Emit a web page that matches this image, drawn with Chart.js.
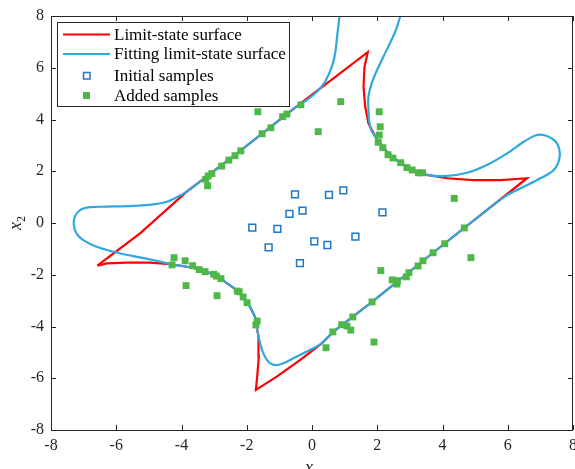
<!DOCTYPE html>
<html>
<head>
<meta charset="utf-8">
<script src="https://cdn.jsdelivr.net/npm/chart.js@4.4.1/dist/chart.umd.min.js"></script>
<style>
  html, body { margin: 0; padding: 0; background: #ffffff; }
  #wrap { width: 575px; height: 469px; position: relative; }
</style>
</head>
<body>
<div id="wrap"><canvas id="c" width="575" height="469"></canvas></div>
<script>
// ---- tick values ----
const xTickValues = [-8, -6, -4, -2, 0, 2, 4, 6, 8];
const yTickValues = [-8, -6, -4, -2, 0, 2, 4, 6, 8];

// ---- Limit-state surface (red) ----
const redX = [-6.58, -5.27, -3.84, -2.21, -0.37, 1.71, 1.61, 1.58, 1.63, 1.73, 1.94, 2.09, 2.34, 2.70, 3.11, 3.52, 4.14, 4.95, 5.77, 6.59,
              5.36, 3.71, 1.84, 0.66, 0.30, -0.37, -1.08, -1.72, -1.68, -1.63, -1.64, -1.72, -1.75, -1.90, -2.10, -2.31, -2.82, -3.33,
              -3.84, -4.35, -4.97, -5.68, -6.29, -6.58];
const redY = [-1.65, -0.40, 1.21, 2.78, 4.60, 6.60, 6.04, 5.27, 4.50, 3.85, 3.34, 3.08, 2.69, 2.33, 2.05, 1.86, 1.73, 1.66, 1.66, 1.73,
              0.50, -1.15, -3.05, -4.20, -4.65, -5.30, -5.94, -6.45, -5.94, -5.17, -4.39, -3.81, -3.62, -3.24, -2.85, -2.59, -2.14, -1.82,
              -1.69, -1.59, -1.53, -1.53, -1.56, -1.65];

// ---- Fitting limit-state surface (blue) ----
const blueX = [0.85, 0.84, 0.78, 0.71, 0.61, 0.40, 0.15, -0.16, -0.37, -2.21, -3.84, -4.15, -4.45, -4.87, -5.48, -6.29, -6.81, -7.11,
               -7.27, -7.30, -7.22, -7.01, -6.60, -6.09, -5.48, -4.87, -4.35, -3.84, -3.33, -2.82, -2.31, -2.10, -1.90, -1.75, -1.72,
               -1.68, -1.59, -1.49, -1.34, -1.13, -0.88, -0.57, -0.16, 0.25, 0.66, 1.84, 3.71, 5.36, 5.98, 6.49, 7.00, 7.41, 7.59,
               7.51, 7.20, 6.90, 6.49, 5.98, 5.36, 4.75, 4.14, 3.52, 3.11, 2.70, 2.34, 2.09, 1.94, 1.82, 1.75, 1.73, 1.73, 1.83,
               2.04, 2.29, 2.55, 2.70, 2.72];
const blueY = [8.10, 7.97, 7.33, 6.56, 6.04, 5.46, 5.07, 4.75, 4.60, 2.78, 1.21, 0.99, 0.82, 0.72, 0.66, 0.63, 0.61, 0.50,
               0.24, -0.08, -0.40, -0.66, -0.92, -1.11, -1.28, -1.43, -1.59, -1.69, -1.82, -2.14, -2.59, -2.85, -3.24, -3.62, -3.81,
               -4.14, -4.65, -5.04, -5.36, -5.49, -5.42, -5.23, -4.97, -4.69, -4.20, -3.05, -1.15, 0.50, 1.08, 1.40, 1.73, 2.05, 2.56,
               3.08, 3.36, 3.40, 3.14, 2.69, 2.24, 1.94, 1.82, 1.86, 2.05, 2.33, 2.69, 3.08, 3.34, 3.59, 3.95, 4.37, 4.88, 5.40,
               6.04, 6.69, 7.39, 7.97, 8.10];

// ---- Initial samples ----
const initX = [-0.52, 0.52, 0.96, -0.69, -0.29, 2.16, -1.83, -1.06, 0.07, 0.47, 1.33, -1.33, -0.37];
const initY = [1.11, 1.09, 1.26, 0.35, 0.48, 0.41, -0.18, -0.23, -0.71, -0.85, -0.53, -0.94, -1.55];

// ---- Added samples ----
const addX = [-1.66, 0.88, 0.19, -0.34, -0.77, -0.90, -1.26, -1.53, -2.18, -2.36, -2.55, -2.77, -3.07, -3.18, -3.26, -3.20,
              2.06, 2.09, 2.06, 2.03, 2.17, 2.33, 2.48, 2.72, 2.91, 3.07, 3.26, 3.39, 4.36,
              4.67, 4.07, 4.87, 3.71, 3.40, 3.25, 2.97, 2.89, 2.11, 2.46, 2.60, 2.62, 1.84, 1.25, 0.91, 1.07, 1.19, 0.64, 1.90, 0.43,
              -4.23, -4.29, -3.89, -3.66, -3.46, -3.28, -3.86, -3.01, -2.93, -2.79, -2.91, -2.29, -2.23, -2.11, -1.99, -1.68, -1.72];
const addY = [4.30, 4.69, 3.53, 4.57, 4.21, 4.11, 3.68, 3.45, 2.79, 2.60, 2.43, 2.20, 1.91, 1.82, 1.69, 1.44,
              4.30, 3.72, 3.40, 3.12, 2.91, 2.64, 2.51, 2.33, 2.14, 2.05, 1.94, 1.94, 0.95,
              -0.19, -0.80, -1.34, -1.15, -1.46, -1.66, -1.92, -2.08, -1.84, -2.20, -2.36, -2.23, -3.05, -3.63, -3.93, -3.98, -4.14, -4.21, -4.60, -4.82,
              -1.34, -1.62, -1.46, -1.65, -1.80, -1.88, -2.42, -1.98, -2.05, -2.15, -2.81, -2.63, -2.66, -2.86, -3.08, -3.79, -3.94];

// ---- legend labels ----
const legendLabels = ['Limit-state surface', 'Fitting limit-state surface', 'Initial samples', 'Added samples'];

const toPts = (xs, ys) => xs.map((x, i) => ({ x: x, y: ys[i] }));

const COL_RED = '#ff0000';
const COL_BLUE = '#2ea8df';
const COL_INIT = '#1f78c1';
const COL_ADD = '#4db848';
const AXIS_COL = '#262626';
const SERIF = '"Liberation Serif", "Times New Roman", serif';

const framePlugin = {
  id: 'frame',
  afterDatasetsDraw(chart) {
    const ctx = chart.ctx;
    const a = chart.chartArea;
    const xs = chart.scales.x, ys = chart.scales.y;
    ctx.save();
    ctx.strokeStyle = AXIS_COL;
    ctx.lineWidth = 1;
    // inward ticks
    ctx.beginPath();
    xTickValues.forEach(v => {
      const px = Math.round(xs.getPixelForValue(v)) + 0.5;
      ctx.moveTo(px, a.bottom); ctx.lineTo(px, a.bottom - 5);
      ctx.moveTo(px, a.top); ctx.lineTo(px, a.top + 5);
    });
    yTickValues.forEach(v => {
      const py = Math.round(ys.getPixelForValue(v)) + 0.5;
      ctx.moveTo(a.left, py); ctx.lineTo(a.left + 5, py);
      ctx.moveTo(a.right, py); ctx.lineTo(a.right - 5, py);
    });
    ctx.stroke();
    // box
    ctx.strokeRect(Math.round(a.left) + 0.5, Math.round(a.top) + 0.5,
                   Math.round(a.right - a.left) - 1, Math.round(a.bottom - a.top));

    // legend
    const lx = 57.5, ly = 22.5, lw = 232, lh = 84;
    ctx.fillStyle = '#ffffff';
    ctx.fillRect(lx, ly, lw, lh);
    ctx.strokeStyle = AXIS_COL;
    ctx.strokeRect(lx, ly, lw, lh);
    const rows = [34.5, 54, 75.5, 95.5];
    ctx.lineWidth = 2;
    ctx.strokeStyle = COL_RED;
    ctx.beginPath(); ctx.moveTo(63, rows[0]); ctx.lineTo(110, rows[0]); ctx.stroke();
    ctx.strokeStyle = COL_BLUE;
    ctx.beginPath(); ctx.moveTo(63, rows[1]); ctx.lineTo(110, rows[1]); ctx.stroke();
    ctx.lineWidth = 1.5;
    ctx.strokeStyle = COL_INIT;
    ctx.strokeRect(83.5, rows[2] - 3, 6.5, 6.5);
    ctx.fillStyle = COL_ADD;
    ctx.fillRect(83, rows[3] - 3.5, 7, 7);
    ctx.fillStyle = '#000000';
    ctx.font = '17px ' + SERIF;
    ctx.textBaseline = 'middle';
    ctx.textAlign = 'left';
    legendLabels.forEach((t, i) => ctx.fillText(t, 114, rows[i] + 1));

    // axis titles
    ctx.fillStyle = AXIS_COL;
    ctx.textBaseline = 'alphabetic';
    // x1
    const cx = xs.getPixelForValue(0);
    ctx.font = 'italic 18px ' + SERIF;
    ctx.textAlign = 'right';
    ctx.fillText('x', cx + 1, 473);
    ctx.font = '12px ' + SERIF;
    ctx.textAlign = 'left';
    ctx.fillText('1', cx + 1, 477);
    // x2 (rotated)
    ctx.save();
    ctx.translate(21, ys.getPixelForValue(0));
    ctx.rotate(-Math.PI / 2);
    ctx.font = 'italic 18px ' + SERIF;
    ctx.textAlign = 'right';
    ctx.fillText('x', 1, 0);
    ctx.font = '12px ' + SERIF;
    ctx.textAlign = 'left';
    ctx.fillText('2', 1, 4);
    ctx.restore();
    ctx.restore();
  }
};

const tickFont = { family: SERIF, size: 16 };

new Chart(document.getElementById('c'), {
  type: 'scatter',
  data: {
    datasets: [
      { label: legendLabels[3], data: toPts(addX, addY), pointStyle: 'rect', pointRadius: 4.9, pointHoverRadius: 4.9,
        backgroundColor: COL_ADD, borderColor: COL_ADD, borderWidth: 0, showLine: false, order: 1 },
      { label: legendLabels[2], data: toPts(initX, initY), pointStyle: 'rect', pointRadius: 4.8, pointHoverRadius: 4.8,
        backgroundColor: 'rgba(255,255,255,0)', borderColor: COL_INIT, borderWidth: 1.5, showLine: false, order: 2 },
      { label: legendLabels[1], data: toPts(blueX, blueY), showLine: true, borderColor: COL_BLUE, borderWidth: 2.2,
        pointRadius: 0, pointHoverRadius: 0, tension: 0.35, fill: false, order: 3 },
      { label: legendLabels[0], data: toPts(redX, redY), showLine: true, borderColor: COL_RED, borderWidth: 2.2,
        pointRadius: 0, pointHoverRadius: 0, tension: 0, fill: false, order: 4 }
    ]
  },
  options: {
    responsive: false,
    animation: false,
    devicePixelRatio: 1,
    events: [],
    layout: { padding: { top: 16, right: 2, left: 0, bottom: 0 }, autoPadding: false },
    plugins: { legend: { display: false }, tooltip: { enabled: false } },
    scales: {
      x: {
        type: 'linear', min: -8, max: 8,
        afterBuildTicks: s => { s.ticks = xTickValues.map(v => ({ value: v })); },
        afterFit: s => { s.height = 39; s.paddingLeft = 0; s.paddingRight = 0; },
        ticks: { font: tickFont, color: AXIS_COL, padding: 6, maxRotation: 0, autoSkip: false,
                 callback: v => String(v) },
        grid: { display: false, drawTicks: false },
        border: { display: false }
      },
      y: {
        type: 'linear', min: -8, max: 8,
        afterBuildTicks: s => { s.ticks = yTickValues.map(v => ({ value: v })); },
        afterFit: s => { s.width = 51; s.paddingTop = 0; s.paddingBottom = 0; },
        ticks: { font: tickFont, color: AXIS_COL, padding: 7, autoSkip: false,
                 callback: v => String(v) },
        grid: { display: false, drawTicks: false },
        border: { display: false }
      }
    }
  },
  plugins: [framePlugin]
});
</script>
</body>
</html>
